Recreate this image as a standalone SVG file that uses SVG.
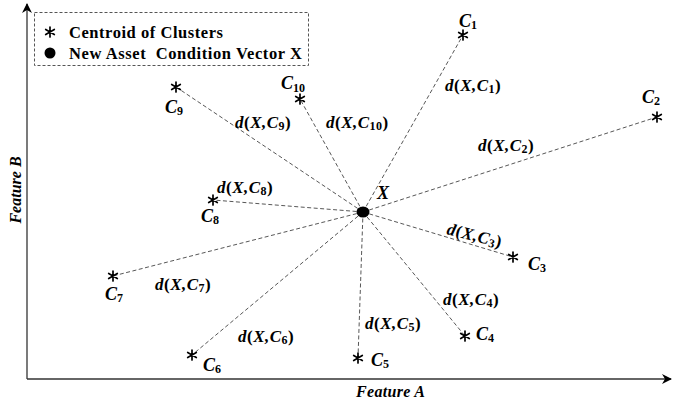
<svg xmlns="http://www.w3.org/2000/svg" width="673" height="404" viewBox="0 0 673 404">
<style>
.axis{stroke:#333;stroke-width:1.3;fill:none}
.conn line{stroke:#444;stroke-width:0.9;stroke-dasharray:4 2.5}
.leg{font-family:"Liberation Serif",serif;font-weight:bold;font-size:16.5px;fill:#000}
.m{font-family:"Liberation Serif",serif;font-weight:bold;font-style:italic;font-size:17px;fill:#000;letter-spacing:0.5px}
.m .u{font-style:normal}
.s{font-size:12px;font-style:normal}
.c{font-family:"Liberation Serif",serif;font-weight:bold;font-style:italic;font-size:18px;fill:#000}
.ax{font-family:"Liberation Serif",serif;font-weight:bold;font-style:italic;font-size:16px;fill:#000}
.star{stroke:#000;stroke-width:1.7;stroke-linecap:round;fill:none}
</style>
<defs>
<g id="ast" class="star"><path d="M0,-5V5M-4.3,-2.5L4.3,2.5M-4.3,2.5L4.3,-2.5"/></g>
<marker id="ah" viewBox="0 0 10 10" refX="9" refY="5" markerWidth="10" markerHeight="10" markerUnits="userSpaceOnUse" orient="auto"><path d="M0,0L10,5L0,10L3,5Z" fill="#000"/></marker>
</defs>
<rect width="673" height="404" fill="#fff"/>
<g id="axes">
<line class="axis" x1="27" y1="379" x2="27" y2="4" marker-end="url(#ah)"/>
<line class="axis" x1="27" y1="379" x2="671" y2="379" marker-end="url(#ah)"/>
<text class="ax" x="356" y="397" textLength="69">Feature A</text>
<text class="ax" transform="translate(21,190) rotate(-90)" text-anchor="middle">Feature B</text>
</g>
<g id="legend">
<rect x="34.5" y="12.5" width="274" height="53" fill="none" stroke="#555" stroke-width="1" stroke-dasharray="3 2"/>
<use href="#ast" x="50" y="32"/>
<text class="leg" x="69" y="38" textLength="154">Centroid of Clusters</text>
<circle cx="50" cy="53" r="5.5" fill="#000"/>
<text class="leg" x="69" y="59" textLength="233" xml:space="preserve">New Asset  Condition Vector X</text>
</g>
<g id="connectors" class="conn">
<line x1="363" y1="212" x2="463" y2="35"/>
<line x1="363" y1="212" x2="657" y2="117"/>
<line x1="363" y1="212" x2="513" y2="257"/>
<line x1="363" y1="212" x2="465" y2="336"/>
<line x1="363" y1="212" x2="358" y2="358"/>
<line x1="363" y1="212" x2="192" y2="355"/>
<line x1="363" y1="212" x2="113" y2="276"/>
<line x1="363" y1="212" x2="213" y2="200"/>
<line x1="363" y1="212" x2="176" y2="87"/>
<line x1="363" y1="212" x2="300" y2="99"/>
</g>
<g id="X">
<ellipse cx="363" cy="212" rx="6.5" ry="5.5" fill="#000"/>
<text class="c" x="377" y="199" font-size="14">X</text>
</g>
<g id="C1"><use href="#ast" x="463" y="35"/><text class="c" x="459" y="27">C<tspan class="s" dy="2">1</tspan></text></g>
<g id="C2"><use href="#ast" x="657" y="117"/><text class="c" x="642" y="103">C<tspan class="s" dy="2">2</tspan></text></g>
<g id="C3"><use href="#ast" x="513" y="257"/><text class="c" x="528" y="270">C<tspan class="s" dy="2">3</tspan></text></g>
<g id="C4"><use href="#ast" x="465" y="336"/><text class="c" x="476" y="340">C<tspan class="s" dy="2">4</tspan></text></g>
<g id="C5"><use href="#ast" x="358" y="358"/><text class="c" x="371" y="366">C<tspan class="s" dy="2">5</tspan></text></g>
<g id="C6"><use href="#ast" x="192" y="355"/><text class="c" x="203" y="371">C<tspan class="s" dy="2">6</tspan></text></g>
<g id="C7"><use href="#ast" x="113" y="276"/><text class="c" x="105" y="300">C<tspan class="s" dy="2">7</tspan></text></g>
<g id="C8"><use href="#ast" x="213" y="200"/><text class="c" x="201" y="222">C<tspan class="s" dy="2">8</tspan></text></g>
<g id="C9"><use href="#ast" x="176" y="87"/><text class="c" x="165" y="113">C<tspan class="s" dy="2">9</tspan></text></g>
<g id="C10"><use href="#ast" x="300" y="99"/><text class="c" x="281" y="89">C<tspan class="s" dy="3">10</tspan></text></g>
<g id="labels">
<text class="m" x="445" y="91">d<tspan class="u">(</tspan>X,C<tspan class="s" dy="2">1</tspan><tspan class="u" dy="-2">)</tspan></text>
<text class="m" x="478" y="151">d<tspan class="u">(</tspan>X,C<tspan class="s" dy="2">2</tspan><tspan class="u" dy="-2">)</tspan></text>
<text class="m" transform="translate(446,234) rotate(14)">d<tspan class="u">(</tspan>X,C<tspan class="s" dy="2">3</tspan><tspan class="u" dy="-2">)</tspan></text>
<text class="m" x="443" y="305">d<tspan class="u">(</tspan>X,C<tspan class="s" dy="2">4</tspan><tspan class="u" dy="-2">)</tspan></text>
<text class="m" x="365" y="329">d<tspan class="u">(</tspan>X,C<tspan class="s" dy="2">5</tspan><tspan class="u" dy="-2">)</tspan></text>
<text class="m" x="238" y="342">d<tspan class="u">(</tspan>X,C<tspan class="s" dy="2">6</tspan><tspan class="u" dy="-2">)</tspan></text>
<text class="m" x="155" y="290">d<tspan class="u">(</tspan>X,C<tspan class="s" dy="2">7</tspan><tspan class="u" dy="-2">)</tspan></text>
<text class="m" x="217" y="193">d<tspan class="u">(</tspan>X,C<tspan class="s" dy="2">8</tspan><tspan class="u" dy="-2">)</tspan></text>
<text class="m" x="235" y="128">d<tspan class="u">(</tspan>X,C<tspan class="s" dy="2">9</tspan><tspan class="u" dy="-2">)</tspan></text>
<text class="m" x="326" y="128">d<tspan class="u">(</tspan>X,C<tspan class="s" dy="2">10</tspan><tspan class="u" dy="-2">)</tspan></text>
</g>
</svg>
